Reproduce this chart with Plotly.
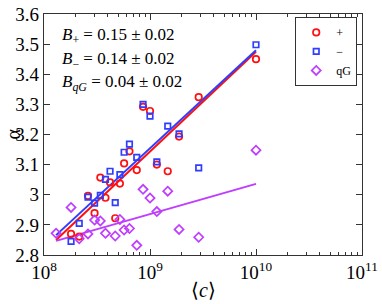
import plotly.graph_objects as go

c_vals = [1.3e8, 1.8e8, 2.15e8, 2.6e8, 3.0e8, 3.4e8, 3.8e8, 4.2e8, 4.7e8, 5.2e8,
          5.7e8, 6.4e8, 7.5e8, 8.6e8, 1.0e9, 1.16e9, 1.47e9, 1.88e9, 2.88e9, 1.0e10]
alpha_plus = [None, 2.870, 2.861, 2.996, 2.939, 3.057, 2.990, 3.041, 2.922, 3.037,
              3.104, 3.144, 3.082, 3.292, 3.278, 3.100, 3.078, 3.193, 3.324, 3.450]
alpha_minus = [None, 2.845, 2.905, 2.992, 2.972, 2.998, 3.051, 3.078, 2.974, 3.067,
               3.141, 3.168, 3.124, 3.300, 3.261, 3.109, 3.228, 3.202, 3.089, 3.498]
alpha_qg = [2.872, 2.958, 2.854, 2.870, 2.916, 2.913, 2.872, None, 2.863, 2.918,
            2.883, 2.888, 2.832, 3.018, 2.989, 2.944, 3.012, 2.885, 2.859, 3.148]

fit_x = [1.3e8, 1.0e10]
fit_plus = [2.850, 3.475]
fit_minus = [2.866, 3.480]
fit_qg = [2.847, 3.036]

red = "#ff1010"
blue = "#2f3dff"
purple = "#bf3dff"

font = "Liberation Serif"
fig = go.Figure()

fig.add_trace(go.Scatter(x=fit_x, y=fit_plus, mode="lines", line=dict(color=red, width=2),
                         showlegend=False, hoverinfo="skip"))
fig.add_trace(go.Scatter(x=fit_x, y=fit_minus, mode="lines", line=dict(color=blue, width=2),
                         showlegend=False, hoverinfo="skip"))
fig.add_trace(go.Scatter(x=fit_x, y=fit_qg, mode="lines", line=dict(color=purple, width=2),
                         showlegend=False, hoverinfo="skip"))

fig.add_trace(go.Scatter(x=c_vals, y=alpha_plus, mode="markers", name="+",
                         marker=dict(symbol="circle-open", size=6.5, color=red, line=dict(width=1.7))))
fig.add_trace(go.Scatter(x=c_vals, y=alpha_minus, mode="markers", name="−",
                         marker=dict(symbol="square-open", size=5.5, color=blue, line=dict(width=1.7))))
fig.add_trace(go.Scatter(x=c_vals, y=alpha_qg, mode="markers", name="qG",
                         marker=dict(symbol="diamond-open", size=7, color=purple, line=dict(width=1.7))))

ann = [("<i>B</i><sub>+</sub> = 0.15 ± 0.02", 0.909),
       ("<i>B</i><sub>−</sub> = 0.14 ± 0.02", 0.809),
       ("<i>B<sub>qG</sub></i> = 0.04 ± 0.02", 0.714)]
for txt, yy in ann:
    fig.add_annotation(x=0.05, y=yy, xref="paper", yref="paper", text=txt, showarrow=False,
                       xanchor="left", yanchor="middle", font=dict(family=font, size=17, color="black"))

# axis titles
fig.add_annotation(x=-32 / 318, y=0.5, xref="paper", yref="paper", text="α", textangle=-90,
                   showarrow=False, xanchor="center", yanchor="middle",
                   font=dict(family=font, size=20, color="black"))
fig.add_annotation(x=0.5, y=-35 / 241, xref="paper", yref="paper", text="⟨<i>c</i>⟩",
                   showarrow=False, xanchor="center", yanchor="middle",
                   font=dict(family=font, size=20, color="black"))

axis_common = dict(showline=True, linecolor="#333", linewidth=1.2, mirror="allticks",
                   ticks="inside", tickcolor="#333", ticklen=6, showgrid=False, zeroline=False,
                   automargin=False, tickfont=dict(family=font, size=19, color="black"))

fig.update_xaxes(type="log", range=[8, 11], tickvals=[1e8, 1e9, 1e10, 1e11],
                 ticktext=["10<sup>8</sup>", "10<sup>9</sup>", "10<sup>10</sup>", "10<sup>11</sup>"],
                 minor=dict(ticks="inside", ticklen=3, tickcolor="#333",
                            tickvals=[m * 10 ** e for e in range(8, 11) for m in range(2, 10)]),
                 **axis_common)
fig.update_yaxes(range=[2.8, 3.6], tickvals=[2.8, 2.9, 3.0, 3.1, 3.2, 3.3, 3.4, 3.5, 3.6],
                 ticktext=["2.8", "2.9", "3", "3.1", "3.2", "3.3", "3.4", "3.5", "3.6"],
                 **axis_common)

fig.update_layout(width=382, height=304, margin=dict(l=44, r=20, t=14, b=49),
                  paper_bgcolor="white", plot_bgcolor="white",
                  legend=dict(x=0.985, y=0.988, xanchor="right", yanchor="top",
                              bordercolor="#333", borderwidth=1, bgcolor="white",
                              font=dict(family=font, size=12, color="black"),
                              itemwidth=30, tracegroupgap=0))

fig.write_html("out.html", config={"displayModeBar": False},
               post_script="document.body.style.margin='0';document.body.style.padding='0';")
